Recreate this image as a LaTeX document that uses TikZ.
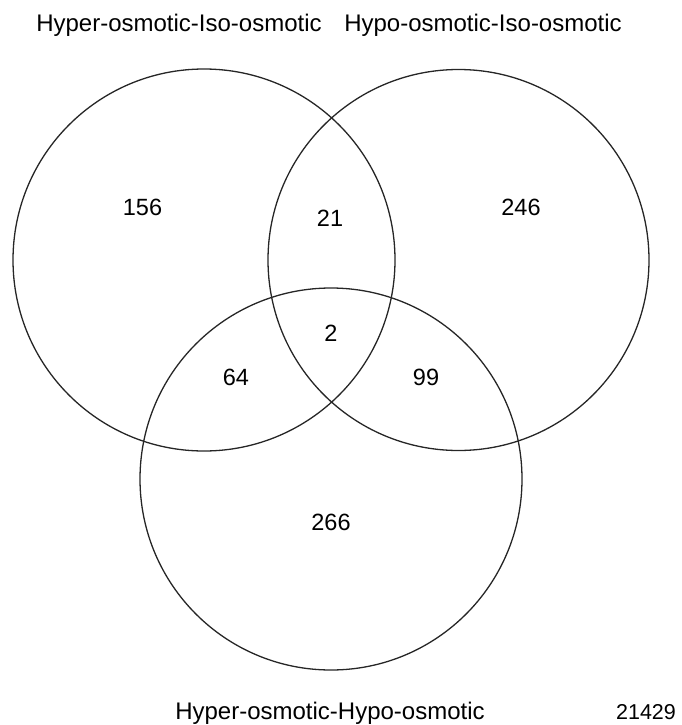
\documentclass[tikz,border=0pt]{standalone}
\usepackage{fontspec}
\setmainfont{Liberation Sans}
\begin{document}
\begin{tikzpicture}[x=1pt,y=-1pt,
  ring/.style={draw=black!85,line width=1.3pt},
  lbl/.style={font=\fontsize{24}{28}\selectfont,inner sep=0pt,anchor=base},
  num/.style={font=\fontsize{23.5}{28}\selectfont,inner sep=0pt,anchor=base}]
\useasboundingbox (0,0) rectangle (681,725);
\draw[ring] (204,260) circle (191);
\draw[ring] (458.5,260) circle (190.5);
\draw[ring] (331,479) circle (191);
\node[lbl] (la) at (179,32) {Hyper-osmotic-Iso-osmotic};
\node[lbl] (lb) at (483,32) {Hypo-osmotic-Iso-osmotic};
\node[lbl] (lc) at (330,719) {Hyper-osmotic-Hypo-osmotic};
\node[lbl,font=\fontsize{21.5}{26}\selectfont] (tot) at (646,719) {21429};
\node[num] (n1) at (142.5,215) {156};
\node[num] (n2) at (330,226.5) {21};
\node[num] (n3) at (521,215) {246};
\node[num] (n4) at (331,341.5) {2};
\node[num] (n5) at (236,385) {64};
\node[num] (n6) at (426,385) {99};
\node[num] (n7) at (331,530) {266};
\end{tikzpicture}
\end{document}
